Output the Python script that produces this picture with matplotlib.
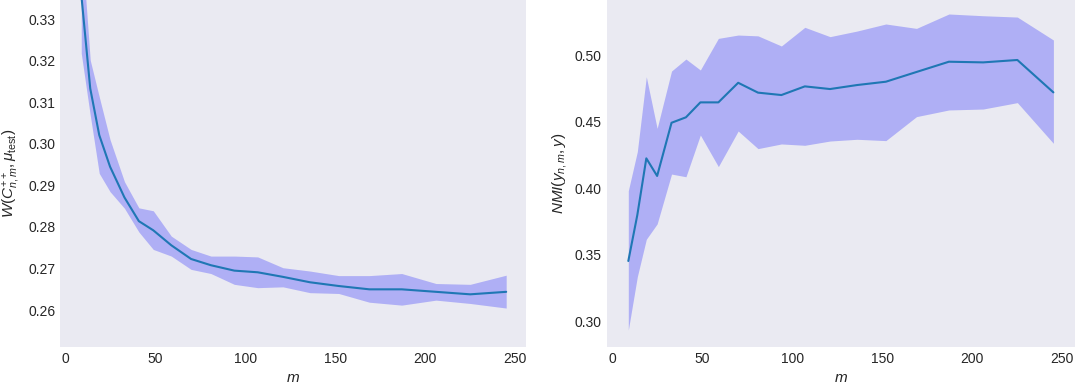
import matplotlib
matplotlib.use("Agg")
import matplotlib.pyplot as plt

# m values (sample sizes)
m = [9, 14, 19, 25, 33, 41, 49, 59, 70, 81, 94, 107, 121, 136, 152, 169, 187, 206, 225, 245]

# Left panel: W(C++_{n,m}, mu_test)
w_mean = [0.336, 0.3133, 0.3021, 0.2945, 0.2871, 0.2814, 0.2792, 0.2756, 0.2723, 0.2708,
          0.2695, 0.2691, 0.2680, 0.2667, 0.2658, 0.2650, 0.2650, 0.2644, 0.2638, 0.2644]
w_upper = [0.350, 0.3201, 0.3113, 0.3010, 0.2909, 0.2846, 0.2839, 0.2778, 0.2746, 0.2730,
           0.2730, 0.2728, 0.2702, 0.2694, 0.2683, 0.2683, 0.2688, 0.2664, 0.2662, 0.2684]
w_lower = [0.3218, 0.3069, 0.2929, 0.2885, 0.2845, 0.2788, 0.2746, 0.2730, 0.2698, 0.2688,
           0.2662, 0.2654, 0.2656, 0.2642, 0.2640, 0.2619, 0.2612, 0.2624, 0.2616, 0.2605]

# Right panel: NMI(y_{n,m}, y)
nmi_mean = [0.3455, 0.380, 0.4225, 0.4093, 0.4492, 0.4533, 0.4645, 0.4645, 0.4792, 0.4718,
            0.470, 0.4765, 0.4745, 0.4775, 0.480, 0.4873, 0.495, 0.4945, 0.4963, 0.472]
nmi_upper = [0.3982, 0.4275, 0.4837, 0.445, 0.488, 0.497, 0.4888, 0.5125, 0.515, 0.5144,
             0.5068, 0.5208, 0.5138, 0.518, 0.5233, 0.520, 0.5308, 0.5295, 0.5285, 0.5113]
nmi_lower = [0.2937, 0.3337, 0.3618, 0.3733, 0.4107, 0.4087, 0.440, 0.4163, 0.443, 0.4298,
             0.4333, 0.4323, 0.4355, 0.4368, 0.4358, 0.4538, 0.4588, 0.4595, 0.4643, 0.4338]

plt.style.use('seaborn-v0_8-dark')
plt.rcParams['font.family'] = ['Liberation Sans', 'DejaVu Sans']
plt.rcParams['mathtext.fontset'] = 'custom'
plt.rcParams['mathtext.it'] = 'Liberation Sans:italic'
plt.rcParams['mathtext.rm'] = 'Liberation Sans'

fig = plt.figure(figsize=(10.78, 3.85), dpi=100)
W, H = 1078, 385
ax1 = fig.add_axes([60 / W, 38.3 / H, 466 / W, 346.7 / H])
ax2 = fig.add_axes([606.7 / W, 38.3 / H, 468.3 / W, 346.7 / H])

line_color = '#1f77b4'

ax1.fill_between(m, w_lower, w_upper, color='blue', alpha=0.25, linewidth=0)
ax1.plot(m, w_mean, color=line_color, lw=1.5)
ax1.set_xlim(-2.8, 256)
ax1.set_ylim(0.2512, 0.3346)
ax1.set_yticks([0.26, 0.27, 0.28, 0.29, 0.30, 0.31, 0.32, 0.33])
ax1.set_xticks([0, 50, 100, 150, 200, 250])
ax1.set_xlabel('$m$', fontsize=11)
ax1.set_ylabel(r'$W(C^{++}_{n,m}, \mu_{\mathrm{test}})$', fontsize=11)

ax2.fill_between(m, nmi_lower, nmi_upper, color='blue', alpha=0.25, linewidth=0)
ax2.plot(m, nmi_mean, color=line_color, lw=1.5)
ax2.set_xlim(-3, 257)
ax2.set_ylim(0.2812, 0.5413)
ax2.set_yticks([0.30, 0.35, 0.40, 0.45, 0.50])
ax2.set_xticks([0, 50, 100, 150, 200, 250])
ax2.set_xlabel('$m$', fontsize=11)
ax2.set_ylabel('$NMI(y_{n,m}, y)$', fontsize=11)

for ax in (ax1, ax2):
    ax.tick_params(labelsize=10, length=0)

fig.savefig('out.png', dpi=100)
